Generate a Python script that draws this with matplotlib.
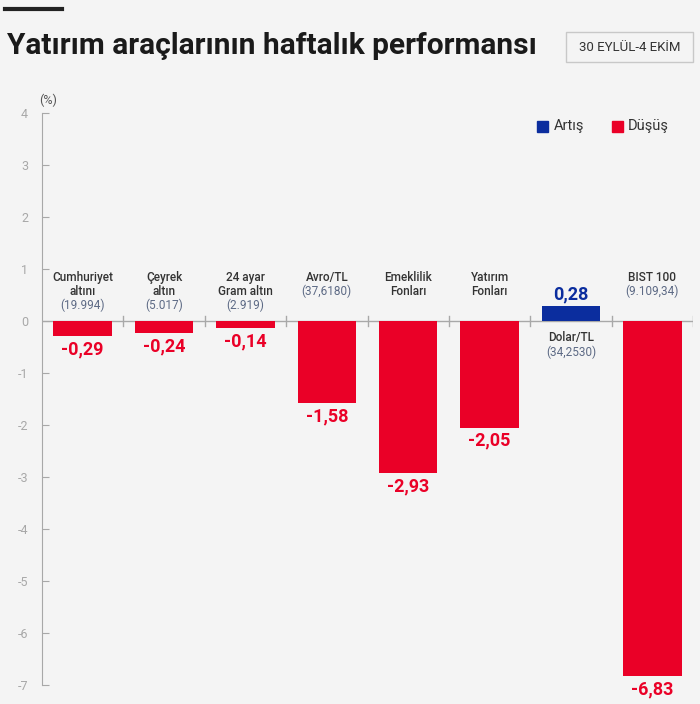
import matplotlib.pyplot as plt
from matplotlib.patches import Rectangle

plt.rcParams["font.family"] = ["Roboto", "DejaVu Sans"]

names = ["Cumhuriyet\naltını", "Çeyrek\naltın", "24 ayar\nGram altın", "Avro/TL",
         "Emeklilik\nFonları", "Yatırım\nFonları", "Dolar/TL", "BIST 100"]
prices = ["(19.994)", "(5.017)", "(2.919)", "(37,6180)", "", "", "(34,2530)", "(9.109,34)"]
changes = [-0.29, -0.24, -0.14, -1.58, -2.93, -2.05, 0.28, -6.83]
value_labels = ["-0,29", "-0,24", "-0,14", "-1,58", "-2,93", "-2,05", "0,28", "-6,83"]
yticks = [4, 3, 2, 1, 0, -1, -2, -3, -4, -5, -6, -7]

bg = "#f4f4f4"
red = "#ea0027"
blue = "#0b2d9e"
gray = "#a8a8a8"

fig = plt.figure(figsize=(7, 7.04), dpi=100, facecolor=bg)
ax = fig.add_axes([0.06, 0.027, 0.93, 0.8125], facecolor=bg)

x = list(range(len(changes)))
colors = [blue if v > 0 else red for v in changes]
ax.bar(x, changes, width=0.72, color=colors, zorder=3)

ax.set_xlim(-0.5, len(changes) - 0.5)
ax.set_ylim(-7, 4)
ax.set_yticks(yticks)
ax.set_yticklabels([str(t) for t in yticks], color=gray, fontsize=9)
ax.tick_params(axis="y", direction="in", length=5, color=gray, pad=10)
ax.set_xticks([])
for s in ["top", "right", "bottom"]:
    ax.spines[s].set_visible(False)
ax.spines["left"].set_color(gray)

# zero line with category separators
ax.axhline(0, color=gray, lw=1, zorder=2)
for b in range(1, len(changes) + 1):
    ax.plot([b - 0.5, b - 0.5], [-0.1, 0.1], color=gray, lw=1, zorder=2)

for i, v in enumerate(changes):
    lines = names[i].split("\n")
    lines_c = [(l, "#333333") for l in lines]
    if prices[i]:
        lines_c.append((prices[i], "#5d6a85"))
    y0 = 0.97 if v < 0 else -0.2
    for k, (txt, c) in enumerate(lines_c):
        ax.annotate(txt, (i, y0), xytext=(0, -10.2 * k), textcoords="offset points",
                    ha="center", va="top", fontsize=8.5,
                    fontweight="medium" if c == "#333333" else "normal", color=c)
    if v < 0:
        ax.annotate(value_labels[i], (i, v), xytext=(0, -3), textcoords="offset points",
                    ha="center", va="top", fontsize=13, fontweight="bold", color=red)
    else:
        ax.annotate(value_labels[i], (i, v), xytext=(0, 2), textcoords="offset points",
                    ha="center", va="bottom", fontsize=13, fontweight="bold", color=blue)

ax.text(-0.53, 4.12, "(%)", ha="left", va="bottom", fontsize=9, color="#555555")

# legend
fig.patches.append(Rectangle((537 / 700, 1 - 132 / 704), 11 / 700, 11 / 704,
                             transform=fig.transFigure, color=blue))
fig.text(554 / 700, 1 - 126 / 704, "Artış", fontsize=10.5, color="#333333", va="center")
fig.patches.append(Rectangle((612 / 700, 1 - 132 / 704), 11 / 700, 11 / 704,
                             transform=fig.transFigure, color=red))
fig.text(628 / 700, 1 - 126 / 704, "Düşüş", fontsize=10.5, color="#333333", va="center")

# header
fig.add_artist(plt.Line2D([5 / 700, 62 / 700], [1 - 9 / 704, 1 - 9 / 704],
                          color="#222222", lw=3))
fig.text(7 / 700, 1 - 46 / 704, "Yatırım araçlarının haftalık performansı",
         fontsize=21.5, fontweight="bold", color="#1a1a1a", va="center")
fig.patches.append(Rectangle((566 / 700, 1 - 62 / 704), 127 / 700, 30 / 704,
                             transform=fig.transFigure, facecolor=bg,
                             edgecolor="#c8c8c8", lw=1))
fig.text(629.5 / 700, 1 - 47.5 / 704, "30 EYLÜL-4 EKİM", fontsize=9.5, color="#333333",
         ha="center", va="center")

fig.savefig("out.png", dpi=100, facecolor=bg)
